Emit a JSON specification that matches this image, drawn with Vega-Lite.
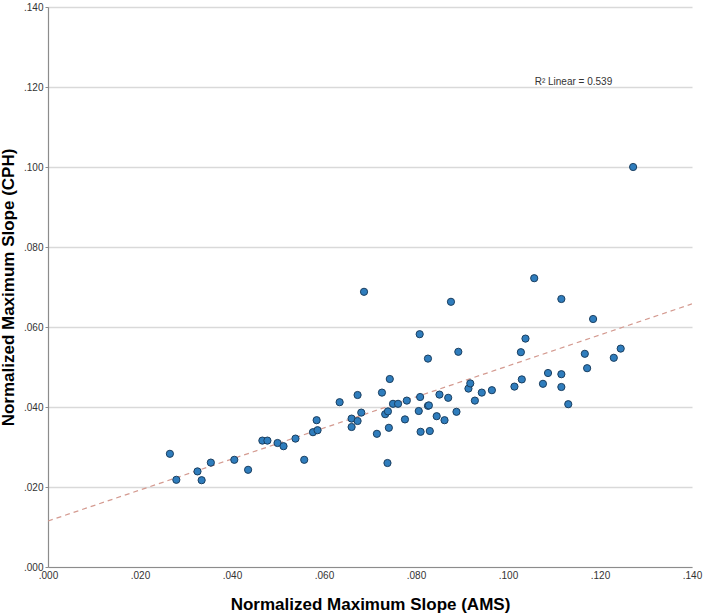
{
  "$schema": "https://vega.github.io/schema/vega-lite/v6.json",
  "width": 644,
  "height": 560,
  "autosize": "none",
  "padding": {"left": 48, "top": 7, "right": 16, "bottom": 49},
  "background": "white",
  "config": {
    "font": "Liberation Sans",
    "view": {"stroke": null},
    "axis": {
      "labelFont": "Liberation Sans",
      "labelFontSize": 10,
      "labelColor": "#333333",
      "labelFlush": false,
      "titleFont": "Liberation Sans",
      "titleFontSize": 17,
      "titleFontWeight": "bold",
      "titleColor": "#000000",
      "domainColor": "#8c8c8c",
      "domainWidth": 1.2,
      "tickColor": "#8c8c8c",
      "tickSize": 3,
      "gridColor": "#d9d9d9",
      "gridWidth": 1.5
    }
  },
  "data": {
    "values": [
      {"ams": 0.0265, "cph": 0.0283}, {"ams": 0.0279, "cph": 0.0218}, {"ams": 0.0325, "cph": 0.0239},
      {"ams": 0.0334, "cph": 0.0217}, {"ams": 0.0354, "cph": 0.0261}, {"ams": 0.0405, "cph": 0.0268},
      {"ams": 0.0435, "cph": 0.0243}, {"ams": 0.0466, "cph": 0.0316}, {"ams": 0.0477, "cph": 0.0316},
      {"ams": 0.0499, "cph": 0.0310}, {"ams": 0.0512, "cph": 0.0302}, {"ams": 0.0538, "cph": 0.0321},
      {"ams": 0.0557, "cph": 0.0268}, {"ams": 0.0576, "cph": 0.0337}, {"ams": 0.0586, "cph": 0.0342},
      {"ams": 0.0584, "cph": 0.0367}, {"ams": 0.0634, "cph": 0.0412}, {"ams": 0.0660, "cph": 0.0350},
      {"ams": 0.0660, "cph": 0.0371}, {"ams": 0.0673, "cph": 0.0365}, {"ams": 0.0673, "cph": 0.0430},
      {"ams": 0.0681, "cph": 0.0386}, {"ams": 0.0687, "cph": 0.0688}, {"ams": 0.0715, "cph": 0.0333},
      {"ams": 0.0726, "cph": 0.0436}, {"ams": 0.0733, "cph": 0.0382}, {"ams": 0.0739, "cph": 0.0389},
      {"ams": 0.0738, "cph": 0.0260}, {"ams": 0.0741, "cph": 0.0348}, {"ams": 0.0743, "cph": 0.0470},
      {"ams": 0.0750, "cph": 0.0408}, {"ams": 0.0761, "cph": 0.0408}, {"ams": 0.0776, "cph": 0.0369},
      {"ams": 0.0780, "cph": 0.0416}, {"ams": 0.0806, "cph": 0.0390}, {"ams": 0.0808, "cph": 0.0582},
      {"ams": 0.0810, "cph": 0.0338}, {"ams": 0.0809, "cph": 0.0425}, {"ams": 0.0826, "cph": 0.0521},
      {"ams": 0.0826, "cph": 0.0403}, {"ams": 0.0828, "cph": 0.0404}, {"ams": 0.0830, "cph": 0.0340},
      {"ams": 0.0845, "cph": 0.0377}, {"ams": 0.0851, "cph": 0.0431}, {"ams": 0.0862, "cph": 0.0367},
      {"ams": 0.0870, "cph": 0.0423}, {"ams": 0.0876, "cph": 0.0663}, {"ams": 0.0888, "cph": 0.0388},
      {"ams": 0.0892, "cph": 0.0538}, {"ams": 0.0914, "cph": 0.0446}, {"ams": 0.0918, "cph": 0.0459},
      {"ams": 0.0928, "cph": 0.0416}, {"ams": 0.0943, "cph": 0.0436}, {"ams": 0.0965, "cph": 0.0442},
      {"ams": 0.1014, "cph": 0.0451}, {"ams": 0.1028, "cph": 0.0537}, {"ams": 0.1030, "cph": 0.0469},
      {"ams": 0.1038, "cph": 0.0571}, {"ams": 0.1057, "cph": 0.0722}, {"ams": 0.1076, "cph": 0.0458},
      {"ams": 0.1087, "cph": 0.0485}, {"ams": 0.1116, "cph": 0.0670}, {"ams": 0.1116, "cph": 0.0482},
      {"ams": 0.1116, "cph": 0.0450}, {"ams": 0.1131, "cph": 0.0407}, {"ams": 0.1167, "cph": 0.0533},
      {"ams": 0.1172, "cph": 0.0497}, {"ams": 0.1185, "cph": 0.0620}, {"ams": 0.1230, "cph": 0.0523},
      {"ams": 0.1245, "cph": 0.0546}, {"ams": 0.1272, "cph": 0.1000}
    ]
  },
  "encoding": {
    "x": {
      "field": "ams", "type": "quantitative",
      "scale": {"domain": [0, 0.14], "nice": false, "zero": false},
      "axis": {
        "title": "Normalized Maximum Slope (AMS)",
        "values": [0, 0.02, 0.04, 0.06, 0.08, 0.1, 0.12, 0.14],
        "labelExpr": "replace(format(datum.value, '.3f'), '0.', '.')",
        "grid": false,
        "ticks": false,
        "titlePadding": 16,
        "labelPadding": 3
      }
    },
    "y": {
      "field": "cph", "type": "quantitative",
      "scale": {"domain": [0, 0.14], "nice": false, "zero": false},
      "axis": {
        "title": "Normalized Maximum Slope (CPH)",
        "values": [0, 0.02, 0.04, 0.06, 0.08, 0.1, 0.12, 0.14],
        "labelExpr": "replace(format(datum.value, '.3f'), '0.', '.')",
        "grid": true,
        "titlePadding": 6,
        "labelPadding": 2
      }
    }
  },
  "layer": [
    {
      "transform": [{"regression": "cph", "on": "ams", "method": "linear", "extent": [0, 0.14]}],
      "mark": {"type": "line", "color": "#d49a90", "strokeDash": [5, 4], "strokeWidth": 1.2, "clip": true}
    },
    {
      "mark": {"type": "point", "filled": true, "shape": "circle", "size": 52, "fill": "#2f7dbd", "stroke": "#1b3f60", "strokeWidth": 1, "opacity": 1}
    },
    {
      "data": {"values": [{"ams": 0.1058, "cph": 0.1213, "label": "R² Linear = 0.539"}]},
      "mark": {"type": "text", "align": "left", "baseline": "middle", "fontSize": 10, "color": "#333333", "font": "Liberation Sans"},
      "encoding": {"text": {"field": "label"}}
    }
  ]
}
